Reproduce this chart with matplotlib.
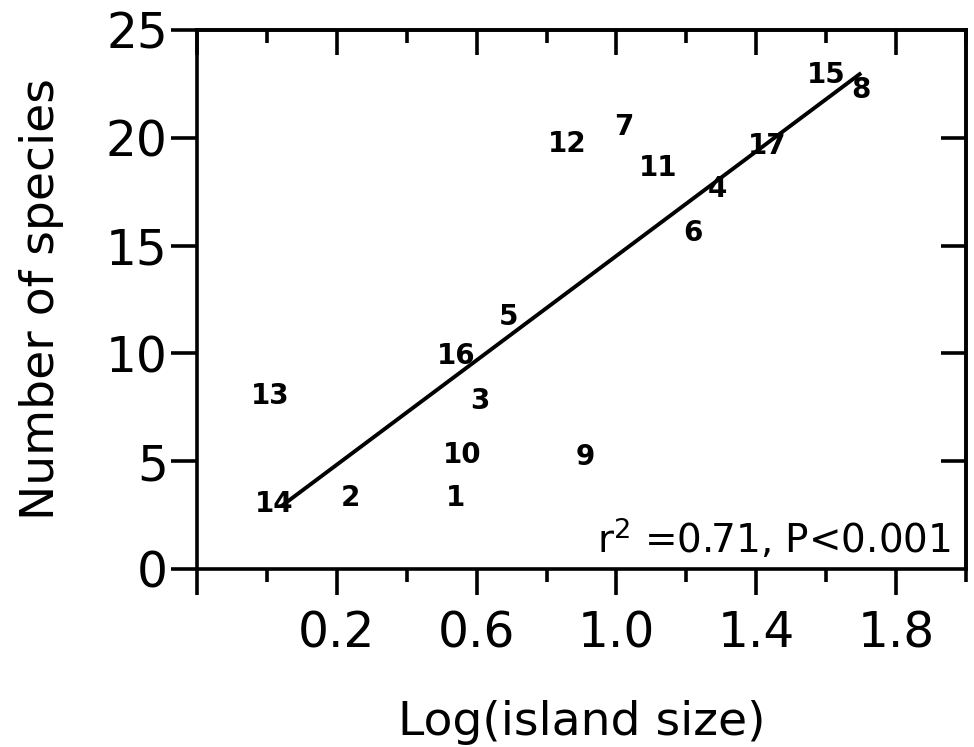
import numpy as np
import matplotlib
matplotlib.use("Agg")
import matplotlib.pyplot as plt
from matplotlib.ticker import MultipleLocator

# island data (label = island number)
islands = ["1", "2", "3", "4", "5", "6", "7", "8", "9", "10",
           "11", "12", "13", "14", "15", "16", "17"]
log_size = [0.54, 0.24, 0.61, 1.29, 0.69, 1.22, 1.02, 1.70, 0.91, 0.56,
            1.12, 0.86, 0.01, 0.02, 1.60, 0.54, 1.43]
n_species = [3.3, 3.3, 7.8, 17.6, 11.7, 15.6, 20.5, 22.2, 5.2, 5.3,
             18.6, 19.7, 8.0, 3.0, 22.9, 9.9, 19.6]

# regression line end points
fit_x = [0.04, 1.70]
fit_y = [2.9, 23.0]

xticks = [-0.2, 0.2, 0.6, 1.0, 1.4, 1.8]
xticklabels = ["", "0.2", "0.6", "1.0", "1.4", "1.8"]
yticks = [0, 5, 10, 15, 20, 25]

plt.rcParams['font.family'] = ['DejaVu Sans']

fig = plt.figure(figsize=(9.74, 7.47), dpi=100)
ax = fig.add_axes([0.2023, 0.2383, 0.7895, 0.7217])

lw = 2.6
for s in ax.spines.values():
    s.set_linewidth(lw)

for lab, x, y in zip(islands, log_size, n_species):
    ax.text(x, y, lab, ha='center', va='center', fontsize=20, fontweight='bold')

ax.plot(fit_x, fit_y, color='black', lw=2.8, solid_capstyle='butt')

ax.text(1.955, 1.4, r"r$^{2}$ =0.71, P<0.001", ha='right', va='center', fontsize=28)

ax.set_xlim(-0.2, 2.0)
ax.set_ylim(0, 25)

ax.set_xticks(xticks)
ax.set_xticklabels(xticklabels)
ax.xaxis.set_minor_locator(MultipleLocator(0.2))
ax.set_yticks(yticks)

ax.tick_params(axis='x', which='major', direction='out', length=19, width=lw,
               labelsize=35, pad=10)
ax.tick_params(axis='x', which='minor', direction='out', length=9.5, width=lw)
ax.tick_params(axis='y', which='major', direction='out', length=19, width=lw,
               labelsize=35, pad=2)

# top ticks point into the plot
top = ax.secondary_xaxis('top')
top.set_xticks(xticks)
top.xaxis.set_minor_locator(MultipleLocator(0.2))
top.tick_params(which='major', direction='in', length=18, width=lw, labeltop=False)
top.tick_params(which='minor', direction='in', length=9.5, width=lw)
top.spines['top'].set_linewidth(lw)

# right ticks point into the plot
right = ax.secondary_yaxis('right')
right.set_yticks([5, 10, 15, 20])
right.tick_params(direction='in', length=18, width=lw, labelright=False)
right.spines['right'].set_linewidth(lw)

ax.set_xlabel("Log(island size)", fontsize=34, labelpad=31)
ax.set_ylabel("Number of species", fontsize=34, labelpad=30)

fig.savefig("out.png", dpi=100)
